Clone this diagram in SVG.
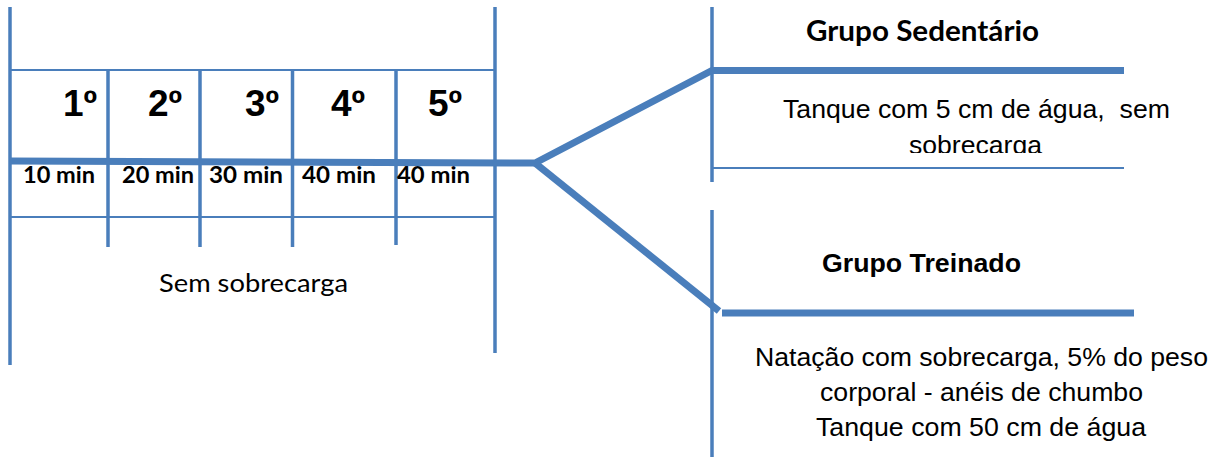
<svg xmlns="http://www.w3.org/2000/svg" width="1222" height="457" viewBox="0 0 1222 457">
  <style>
    .rule { stroke: #4a7ebb; fill: none; stroke-linecap: butt; }
    .bar { stroke-width: 3.5; }
    .thin { stroke-width: 2; }
    .thick { stroke-width: 7; stroke-linejoin: miter; }
    .stage { font-family: "Liberation Sans", Arial, sans-serif; font-weight: bold; font-size: 37px; fill: #000; }
    .dur { font-family: Lato, "Liberation Sans", sans-serif; font-weight: bold; font-size: 22px; fill: #000; }
    .note { font-family: Lato, "Open Sans", sans-serif; font-size: 25px; fill: #000; }
    .title { font-weight: bold; fill: #000; }
    .desc { font-family: "Liberation Sans", Arial, sans-serif; font-size: 26.5px; fill: #000; text-anchor: middle; }
  </style>
  <defs>
    <clipPath id="sedentary-clip">
      <rect x="712" y="72" width="510" height="81"/>
    </clipPath>
  </defs>
  <rect width="1222" height="457" fill="#fff"/>

  <!-- Adaptation week: five sessions, no load -->
  <g id="adaptation">
    <line class="rule bar" x1="10" y1="7" x2="10" y2="365"/>
    <line class="rule bar" x1="495" y1="7" x2="495" y2="353"/>
    <line class="rule thin" x1="10" y1="70" x2="495" y2="70"/>
    <line class="rule thin" x1="10" y1="217" x2="495" y2="217"/>
    <line class="rule bar" x1="108" y1="70" x2="108" y2="247"/>
    <line class="rule bar" x1="200" y1="70" x2="200" y2="247"/>
    <line class="rule bar" x1="292.5" y1="70" x2="292.5" y2="247"/>
    <line class="rule bar" x1="396" y1="70" x2="396" y2="245"/>
    <text class="stage" x="63" y="116">1º</text>
    <text class="stage" x="148" y="116">2º</text>
    <text class="stage" x="245" y="116">3º</text>
    <text class="stage" x="331" y="116">4º</text>
    <text class="stage" x="428" y="116">5º</text>
    <text class="dur" x="23" y="183" textLength="72" lengthAdjust="spacingAndGlyphs">10 min</text>
    <text class="dur" x="122" y="183" textLength="72" lengthAdjust="spacingAndGlyphs">20 min</text>
    <text class="dur" x="209" y="183" textLength="74" lengthAdjust="spacingAndGlyphs">30 min</text>
    <text class="dur" x="302" y="183" textLength="74" lengthAdjust="spacingAndGlyphs">40 min</text>
    <text class="dur" x="397" y="183" textLength="73" lengthAdjust="spacingAndGlyphs">40 min</text>
    <text class="note" x="159" y="292" textLength="189" lengthAdjust="spacingAndGlyphs">Sem sobrecarga</text>
  </g>

  <!-- Sedentary group -->
  <g id="sedentary">
    <line class="rule bar" x1="712" y1="7" x2="712" y2="182"/>
    <line class="rule thin" x1="712" y1="168" x2="1124" y2="168"/>
    <text class="title" x="806" y="41" font-family="Lato, 'Liberation Sans', sans-serif" font-size="28" textLength="233" lengthAdjust="spacingAndGlyphs">Grupo Sedentário</text>
    <g clip-path="url(#sedentary-clip)">
      <text class="desc" x="976.5" y="118" textLength="387" lengthAdjust="spacingAndGlyphs" xml:space="preserve">Tanque com 5 cm de água,  sem</text>
      <text class="desc" x="975.5" y="154" textLength="133" lengthAdjust="spacingAndGlyphs">sobrecarga</text>
    </g>
  </g>

  <!-- Trained group -->
  <g id="trained">
    <line class="rule bar" x1="712" y1="210" x2="712" y2="457"/>
    <text class="title" x="822" y="272" font-family="'Liberation Sans', Arial, sans-serif" font-size="26" textLength="199" lengthAdjust="spacingAndGlyphs">Grupo Treinado</text>
    <text class="desc" x="981.5" y="366" textLength="453" lengthAdjust="spacingAndGlyphs">Natação com sobrecarga, 5% do peso</text>
    <text class="desc" x="981.5" y="401" textLength="323" lengthAdjust="spacingAndGlyphs">corporal - anéis de chumbo</text>
    <text class="desc" x="981" y="436" textLength="330" lengthAdjust="spacingAndGlyphs">Tanque com 50 cm de água</text>
  </g>

  <!-- Timeline and branches -->
  <g id="connectors">
    <polyline class="rule thick" points="10,161 535,163 712,70.5 1124,70.5"/>
    <polyline class="rule thick" points="535,163 719,311"/>
    <line class="rule thick" x1="722" y1="313" x2="1134" y2="313"/>
  </g>
</svg>
